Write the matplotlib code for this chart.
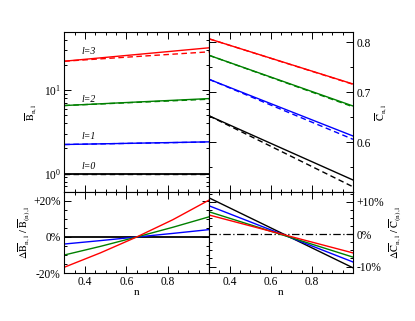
import matplotlib
matplotlib.use("Agg")
import matplotlib.pyplot as plt
from matplotlib.ticker import MultipleLocator, FixedLocator, FixedFormatter, LogLocator, NullFormatter

plt.rcParams['font.family'] = ['Liberation Serif', 'DejaVu Serif']
plt.rcParams['mathtext.fontset'] = 'stix'

# ---- data ----
n_ends = [0.3, 1.0]
B_labels = ['l=0', 'l=1', 'l=2', 'l=3']
colors = ['black', 'blue', 'green', 'red']
B_solid = [[1.0, 1.0], [2.23, 2.40], [6.55, 7.94], [22.3, 32.3]]
B_dashed = [[1.0, 1.0], [2.23, 2.39], [6.55, 7.80], [22.3, 28.9]]
B_label_y = [1.2, 2.76, 7.73, 28.9]

C_solid = [[0.653, 0.5246], [0.726, 0.6126], [0.774, 0.6726], [0.807, 0.7166]]
C_dashed = [[0.653, 0.511], [0.726, 0.606], [0.774, 0.671], [0.807, 0.7160]]

n_dB = [0.3, 0.475, 0.65, 0.825, 1.0]
dB = [[0, 0, 0, 0, 0],
      [-3.9, -2.0, 0.0, 2.0, 4.1],
      [-10.0, -5.2, 0.0, 5.4, 11.2],
      [-16.8, -8.8, 0.0, 9.6, 20.5]]
dC = [[11.2, -10.4], [8.75, -8.6], [6.9, -7.1], [5.9, -5.8]]

W, H = 415, 321
fig = plt.figure(figsize=(W / 100, H / 100), dpi=100)
x0, xm, x1 = 64.3 / W, 209 / W, 353 / W
yt, ym, yb = 1 - 32 / H, 1 - 192 / H, 1 - 273 / H
axB = fig.add_axes([x0, ym, xm - x0, yt - ym])
axC = fig.add_axes([xm, ym, x1 - xm, yt - ym])
axdB = fig.add_axes([x0, yb, xm - x0, ym - yb])
axdC = fig.add_axes([xm, yb, x1 - xm, ym - yb])

fs = 8.3
for ax in (axB, axC, axdB, axdC):
    ax.set_xlim(0.3, 1.0)
    ax.xaxis.set_major_locator(MultipleLocator(0.2))
    ax.xaxis.set_minor_locator(MultipleLocator(0.05))
    ax.tick_params(which='both', direction='in', top=True, bottom=True, left=True, right=True,
                   labelsize=fs, width=0.7, colors='black', pad=2.5)
    ax.tick_params(which='major', length=5)
    ax.tick_params(which='minor', length=2.5)
    for s in ax.spines.values():
        s.set_linewidth(0.8)

lw = 1.0
dash = (0, (4, 2.5))
# top left
for i in range(4):
    axB.plot(n_ends, B_solid[i], color=colors[i], lw=lw if i else 1.3)
    axB.plot(n_ends, B_dashed[i], color=colors[i], lw=lw, ls=dash)
    axB.text(0.385, B_label_y[i], B_labels[i], fontsize=7, style='italic', ha='left', va='center')
axB.set_yscale('log')
axB.set_ylim(0.6, 50)
axB.yaxis.set_major_locator(LogLocator(base=10))
axB.yaxis.set_minor_locator(LogLocator(base=10, subs=range(2, 10)))
axB.yaxis.set_minor_formatter(NullFormatter())
axB.tick_params(labelbottom=False)
axB.set_ylabel(r'$\overline{\rm B}_{n,l}$', fontsize=7.5, labelpad=3)

# top right
for i in range(4):
    axC.plot(n_ends, C_solid[i], color=colors[i], lw=lw)
    axC.plot(n_ends, C_dashed[i], color=colors[i], lw=lw, ls=dash)
axC.set_ylim(0.5006, 0.8206)
axC.yaxis.set_major_locator(FixedLocator([0.6, 0.7, 0.8]))
axC.yaxis.set_minor_locator(MultipleLocator(0.05))
axC.tick_params(labelbottom=False, labelleft=False, labelright=True)
axC.yaxis.set_label_position('right')
axC.set_ylabel(r'$\overline{\rm C}_{n,l}$', fontsize=7.5, labelpad=2, rotation=90)

# bottom left
for i in range(4):
    axdB.plot(n_dB, dB[i], color=colors[i], lw=lw if i else 1.3)
axdB.set_ylim(-20, 25)
axdB.yaxis.set_major_locator(FixedLocator([-20, 0, 20]))
axdB.yaxis.set_major_formatter(FixedFormatter(['-20%', '0%', '+20%']))
axdB.yaxis.set_minor_locator(MultipleLocator(5))
axdB.set_xticks([0.4, 0.6, 0.8])
axdB.set_xticklabels(['0.4', '0.6', '0.8'])
axdB.xaxis.set_minor_locator(MultipleLocator(0.05))
axdB.set_xlabel('n', fontsize=8, labelpad=0)
axdB.set_ylabel(r'$\Delta\overline{\rm B}_{n,l}\ /\ \overline{\rm B}_{(n),l}$', fontsize=7.5, labelpad=1)

# bottom right
axdC.axhline(0, color='black', lw=0.9, ls=(0, (6, 2, 1, 2)))
for i in range(4):
    axdC.plot(n_ends, dC[i], color=colors[i], lw=lw)
axdC.set_ylim(-12, 13)
axdC.yaxis.set_major_locator(FixedLocator([-10, 0, 10]))
axdC.yaxis.set_major_formatter(FixedFormatter(['-10%', '0%', '+10%']))
axdC.yaxis.set_minor_locator(MultipleLocator(2.5))
axdC.tick_params(labelleft=False, labelright=True)
axdC.yaxis.set_label_position('right')
axdC.set_ylabel(r'$\Delta\overline{\rm C}_{n,l}\ /\ \overline{\rm C}_{(n),l}$', fontsize=7.5, labelpad=2)
axdC.set_xticks([0.4, 0.6, 0.8])
axdC.set_xticklabels(['0.4', '0.6', '0.8'])
axdC.xaxis.set_minor_locator(MultipleLocator(0.05))
axdC.set_xlabel('n', fontsize=8, labelpad=0)

fig.savefig('out.png', dpi=100)
